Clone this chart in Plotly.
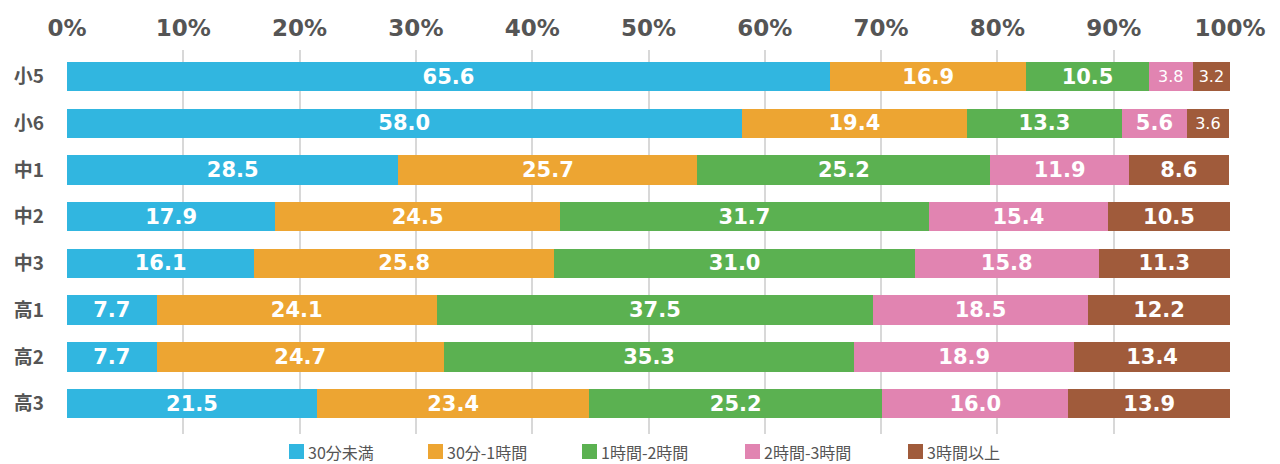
import plotly.graph_objects as go

categories = ["小5", "小6", "中1", "中2", "中3", "高1", "高2", "高3"]
series_names = ["30分未満", "30分-1時間", "1時間-2時間", "2時間-3時間", "3時間以上"]
v_under30 = [65.6, 58.0, 28.5, 17.9, 16.1, 7.7, 7.7, 21.5]
v_30to60 = [16.9, 19.4, 25.7, 24.5, 25.8, 24.1, 24.7, 23.4]
v_1to2 = [10.5, 13.3, 25.2, 31.7, 31.0, 37.5, 35.3, 25.2]
v_2to3 = [3.8, 5.6, 11.9, 15.4, 15.8, 18.5, 18.9, 16.0]
v_over3 = [3.2, 3.6, 8.6, 10.5, 11.3, 12.2, 13.4, 13.9]
x_ticks = [0, 10, 20, 30, 40, 50, 60, 70, 80, 90, 100]

colors = ["#31B6E0", "#EDA532", "#5BB151", "#E184B1", "#A05B3B"]
all_values = [v_under30, v_30to60, v_1to2, v_2to3, v_over3]

NUMFONT = "DejaVu Sans, sans-serif"
JPFONT = "Noto Sans CJK JP, sans-serif"
W, H = 1280, 464
ML, MR, MT, MB = 59, 58, 42, 38
PAGE_OFF = 8  # body margin of the html page


def px_to_paper_x(sx):
    return (sx - PAGE_OFF - ML) / (W - ML - MR)


def px_to_paper_y(sy):
    return (H - MB - (sy - PAGE_OFF)) / (H - MT - MB)


fig = go.Figure()
for name, vals, col in zip(series_names, all_values, colors):
    sizes = [16 if v < 5 else 21 for v in vals]
    weights = ["normal" if v < 5 else "bold" for v in vals]
    fig.add_trace(go.Bar(
        y=categories, x=vals, name=name, orientation="h",
        marker=dict(color=col, line=dict(width=0)),
        text=[f"{v:.1f}" for v in vals],
        textposition="inside", insidetextanchor="middle", constraintext="none",
        textfont=dict(color="white", size=sizes, family=NUMFONT, weight=weights),
        hoverinfo="skip", showlegend=False,
    ))

# custom legend (square swatch directly followed by label)
legend_left_px = [289, 428, 582, 745, 908]
sw = 15
ly = 444
for name, col, lx in zip(series_names, colors, legend_left_px):
    fig.add_shape(type="rect", xref="paper", yref="paper",
                  x0=px_to_paper_x(lx), x1=px_to_paper_x(lx + sw),
                  y0=px_to_paper_y(ly), y1=px_to_paper_y(ly + sw),
                  fillcolor=col, line=dict(width=0), layer="above")
    fig.add_annotation(xref="paper", yref="paper",
                       x=px_to_paper_x(lx + sw + 2), y=px_to_paper_y(ly + sw / 2),
                       xanchor="left", yanchor="middle", showarrow=False,
                       text=name, font=dict(size=16, color="#555555", family=JPFONT))

fig.update_layout(
    barmode="stack", bargap=0.37,
    width=W, height=H,
    margin=dict(l=ML, r=MR, t=MT, b=MB),
    plot_bgcolor="white", paper_bgcolor="white",
    font=dict(family=NUMFONT, color="#555555"),
    showlegend=False,
)
fig.update_xaxes(
    side="top", range=[0, 100], tickvals=x_ticks,
    ticktext=[f"{t}%" for t in x_ticks],
    tickfont=dict(size=23, color="#555555", family=NUMFONT, weight="bold"),
    showgrid=True, gridcolor="#D8D8D8", gridwidth=2, zeroline=False,
    showline=False, ticks="", fixedrange=True, automargin=False,
    ticklabelstandoff=8,
)
fig.update_yaxes(
    categoryorder="array", categoryarray=categories,
    range=[7.65, -0.57], showgrid=False, zeroline=False, showline=False,
    tickfont=dict(size=19, color="#555555", family=JPFONT, weight="bold"),
    ticks="", ticklabelstandoff=22, automargin=False,
)

fig.write_html("out.html")
